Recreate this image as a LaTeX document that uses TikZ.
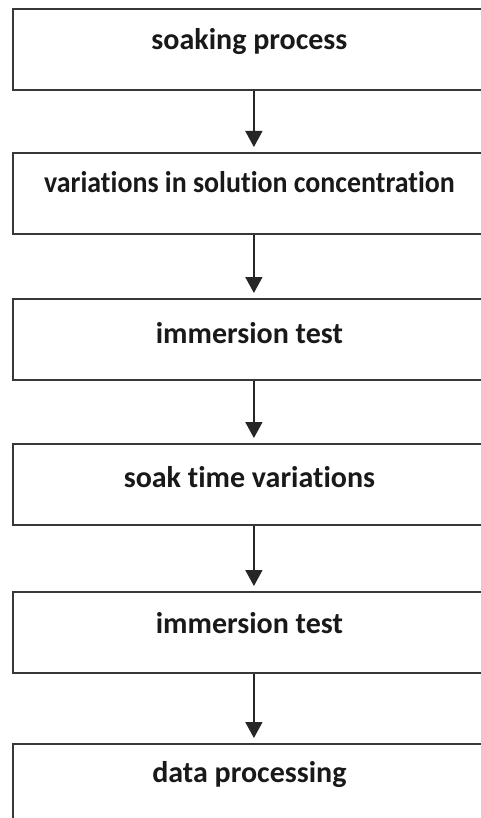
\documentclass[tikz,border=0pt]{standalone}
\usepackage{fontspec}
\setmainfont{Carlito}[RawFeature={-liga}]
\usetikzlibrary{arrows.meta}
\tikzset{
  stepbox/.style={draw=black!78, line width=1.8pt, rectangle, minimum width=482pt, minimum height=81pt, anchor=north west, inner sep=0pt},
  steptext/.style={font=\bfseries\fontsize{30}{34}\selectfont, text=black!90, anchor=center, inner sep=0pt},
  flow/.style={draw=black!85, line width=1.6pt, -{Triangle[width=17pt,length=16pt]}, shorten >=5pt}
}
\begin{document}
\begin{tikzpicture}[x=1pt,y=-1pt]
\useasboundingbox (0,0) rectangle (481,818);
\clip (0,0) rectangle (481,818);
\fill[white] (0,0) rectangle (481,818);
\node[stepbox] (b1) at (12,8) {};
\node[stepbox] (b2) at (12,152) {};
\node[stepbox] (b3) at (12,298) {};
\node[stepbox] (b4) at (12,443) {};
\node[stepbox] (b5) at (12,591) {};
\node[stepbox, minimum height=120pt] (b6) at (12,743) {};
\node[steptext] (t1) at ([xshift=-4.5pt,yshift=-34pt]b1.north) {soaking process};
\node[steptext, xscale=0.93, transform shape] (t2) at ([xshift=-4.5pt,yshift=-30pt]b2.north) {variations in solution concentration};
\node[steptext] (t3) at ([xshift=-4.5pt,yshift=-35pt]b3.north) {immersion test};
\node[steptext] (t4) at ([xshift=-4.5pt,yshift=-34pt]b4.north) {soak time variations};
\node[steptext] (t5) at ([xshift=-4.5pt,yshift=-32pt]b5.north) {immersion test};
\node[steptext] (t6) at ([xshift=-4.5pt,yshift=-32pt]b6.north) {data processing};
\draw[flow] (b1.south) -- (b2.north);
\draw[flow] (b2.south) -- (b3.north);
\draw[flow] (b3.south) -- (b4.north);
\draw[flow] (b4.south) -- (b5.north);
\draw[flow] (b5.south) -- (b6.north);
\end{tikzpicture}
\end{document}
